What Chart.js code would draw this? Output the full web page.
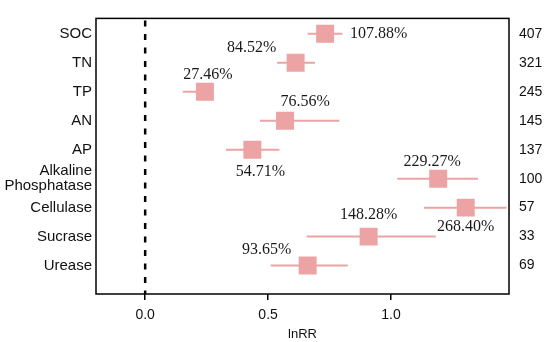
<!DOCTYPE html>
<html>
<head>
<meta charset="utf-8">
<script src="https://cdn.jsdelivr.net/npm/chart.js@4"></script>
<style>
  html, body { margin: 0; padding: 0; background: #fff; }
  #wrap { width: 550px; height: 342px; }
</style>
</head>
<body>
<div id="wrap"><canvas id="forest"></canvas></div>
<script>
// rows, top to bottom
const indicators = ['SOC', 'TN', 'TP', 'AN', 'AP', ['Alkaline', 'Phosphatase'], 'Cellulase', 'Sucrase', 'Urease'];
// effect size (lnRR) and 95% CI
const lnRR = [0.732, 0.612, 0.243, 0.569, 0.436, 1.192, 1.304, 0.909, 0.661];
const ciLow = [0.661, 0.537, 0.153, 0.467, 0.329, 1.026, 1.134, 0.657, 0.511];
const ciHigh = [0.802, 0.691, 0.280, 0.790, 0.546, 1.354, 1.470, 1.182, 0.824];
// percent change labels
const changeLabels = ['107.88%', '84.52%', '27.46%', '76.56%', '54.71%', '229.27%', '268.40%', '148.28%', '93.65%'];
// number of observations (right side)
const sampleSizes = [407, 321, 245, 145, 137, 100, 57, 33, 69];
const xTicks = [0, 0.5, 1.0];

const PINK = '#eca3a3';

// where each percent label sits relative to its square (px)
const labelPlacement = [
    { dx: 25, dy: 0, align: 'left' },
    { dx: -44, dy: -15, align: 'center' },
    { dx: 3, dy: -17, align: 'center' },
    { dx: 20, dy: -19, align: 'center' },
    { dx: 8, dy: 22, align: 'center' },
    { dx: -6, dy: -17, align: 'center' },
    { dx: 0, dy: 19, align: 'center' },
    { dx: 0, dy: -22, align: 'center' },
    { dx: -41, dy: -16, align: 'center' }
];

const rowTicks = (axis) => { axis.ticks = indicators.map((_, i) => ({ value: i })); };
const sans = '"Liberation Sans", Arial, sans-serif';

// whiskers + zero line
const whiskerPlugin = {
    id: 'whiskers',
    beforeDatasetsDraw(chart) {
        const { ctx, chartArea, scales: { x, y } } = chart;
        ctx.save();
        // dashed reference at lnRR = 0
        const x0 = x.getPixelForValue(0);
        ctx.strokeStyle = '#000';
        ctx.lineWidth = 2.5;
        ctx.setLineDash([6, 7.5]);
        ctx.beginPath();
        ctx.moveTo(x0, chartArea.top + 2);
        ctx.lineTo(x0, chartArea.bottom);
        ctx.stroke();
        ctx.setLineDash([]);

        ctx.strokeStyle = PINK;
        ctx.lineWidth = 2;
        lnRR.forEach((_, i) => {
            const py = y.getPixelForValue(i);
            ctx.beginPath();
            ctx.moveTo(x.getPixelForValue(ciLow[i]), py);
            ctx.lineTo(x.getPixelForValue(ciHigh[i]), py);
            ctx.stroke();
        });
        ctx.restore();
    }
};

// frame + percent labels
const labelPlugin = {
    id: 'pctLabels',
    afterDatasetsDraw(chart) {
        const { ctx, chartArea, scales: { x, y } } = chart;
        ctx.save();
        ctx.strokeStyle = '#000';
        ctx.lineWidth = 1.5;
        ctx.strokeRect(chartArea.left, chartArea.top, chartArea.right - chartArea.left, chartArea.bottom - chartArea.top);

        ctx.font = '16px "Liberation Serif", "Times New Roman", serif';
        ctx.fillStyle = '#1a1a1a';
        ctx.textBaseline = 'middle';
        changeLabels.forEach((txt, i) => {
            const p = labelPlacement[i];
            ctx.textAlign = p.align;
            ctx.fillText(txt, x.getPixelForValue(lnRR[i]) + p.dx, y.getPixelForValue(i) + p.dy);
        });
        ctx.restore();
    }
};

new Chart(document.getElementById('forest'), {
    type: 'scatter',
    data: {
        datasets: [{
            data: lnRR.map((v, i) => ({ x: v, y: i })),
            pointStyle: 'rect',
            pointRadius: 12.7,
            pointHoverRadius: 12.7,
            backgroundColor: PINK,
            borderWidth: 0
        }]
    },
    options: {
        responsive: true,
        maintainAspectRatio: false,
        animation: false,
        layout: { padding: { top: 6, left: 0, right: 0, bottom: 0 } },
        plugins: {
            legend: { display: false },
            tooltip: { enabled: false }
        },
        scales: {
            x: {
                type: 'linear',
                min: -0.2,
                max: 1.48,
                afterBuildTicks: (axis) => { axis.ticks = xTicks.map(v => ({ value: v })); },
                afterFit: (axis) => { axis.height = 48; },
                border: { display: false },
                grid: { display: true, drawOnChartArea: false, drawTicks: true, tickLength: 6, color: '#000', lineWidth: 1.5 },
                ticks: {
                    padding: 7,
                    color: '#111',
                    font: { family: sans, size: 14 },
                    callback: (v) => Number(v).toFixed(1)
                },
                title: {
                    display: true,
                    text: 'lnRR',
                    color: '#111',
                    padding: { top: 0, bottom: 0 },
                    font: { family: sans, size: 13 }
                }
            },
            y: {
                type: 'linear',
                position: 'left',
                reverse: true,
                min: -0.53,
                max: 8.98,
                afterBuildTicks: rowTicks,
                afterFit: (axis) => { axis.width = 96; },
                border: { display: false },
                grid: { display: false, drawTicks: false },
                ticks: {
                    padding: 4,
                    color: '#111',
                    font: { family: sans, size: 15, lineHeight: 1.0 },
                    callback: (v) => indicators[v]
                }
            },
            y2: {
                type: 'linear',
                position: 'right',
                reverse: true,
                min: -0.53,
                max: 8.98,
                afterBuildTicks: rowTicks,
                afterFit: (axis) => { axis.width = 41; },
                border: { display: false },
                grid: { display: false, drawTicks: false },
                ticks: {
                    padding: 10,
                    color: '#111',
                    font: { family: sans, size: 14 },
                    callback: (v) => sampleSizes[v]
                }
            }
        }
    },
    plugins: [whiskerPlugin, labelPlugin]
});
</script>
</body>
</html>
